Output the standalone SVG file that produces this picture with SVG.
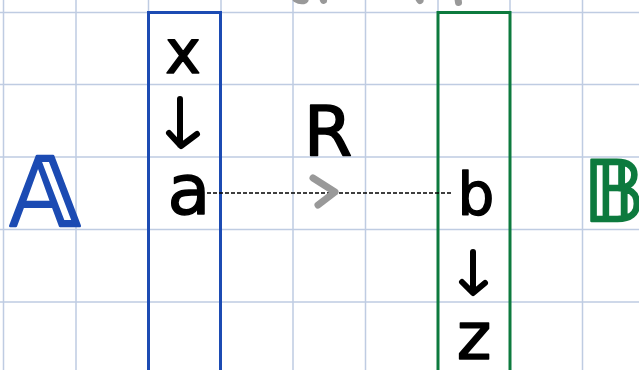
<svg xmlns="http://www.w3.org/2000/svg" width="639" height="370" viewBox="0 0 639 370">
<style>
.grid{stroke:#bfcce2;stroke-width:1.5;fill:none}
.ink{font-family:"DejaVu Sans",sans-serif;fill:#000;stroke:#000;stroke-width:1.5;stroke-linejoin:round;text-anchor:middle}
.stroke{fill:none;stroke:#000;stroke-width:6;stroke-linecap:round;stroke-linejoin:round}
.gray{fill:none;stroke:#999;stroke-width:7;stroke-linecap:round;stroke-linejoin:round}
</style>
<rect width="639" height="370" fill="#fff"/>
<g id="grid" class="grid">
<path d="M3.5 0V370M76 0V370M148.5 0V370M221 0V370M293 0V370M365.5 0V370M438 0V370M510 0V370M582.5 0V370"/>
<path d="M0 12.5H639M0 84.5H639M0 157H639M0 229.5H639M0 302H639"/>
</g>
<g id="top-fragments" class="gray" stroke-width="5">
<path d="M296 -1Q301 2 305 0"/>
<path d="M323 -1L323.5 0.5"/>
<path d="M419 -1L420 0.5"/>
<path d="M458 -1L458.5 2.5"/>
</g>
<g id="setA">
<rect x="148.5" y="12.5" width="72" height="370" fill="none" stroke="#1c4bb3" stroke-width="3"/>
<text x="45" y="226" class="ink" style="fill:#1c4bb3;stroke:#1c4bb3;stroke-width:2.5" font-size="96">𝔸</text>
</g>
<g id="setB">
<rect x="438" y="12.5" width="72" height="370" fill="none" stroke="#0d7a3e" stroke-width="3"/>
<text x="614" y="221" class="ink" style="fill:#0d7a3e;stroke:#0d7a3e;stroke-width:2.5" font-size="84">𝔹</text>
</g>
<g id="node-x"><text x="183" y="73" class="ink" font-size="60">x</text></g>
<g id="node-a"><text x="189" y="214" class="ink" font-size="70">a</text></g>
<g id="node-b"><text x="476" y="215" class="ink" font-size="58">b</text></g>
<g id="node-z"><text x="474" y="359" class="ink" font-size="66">z</text></g>
<g id="label-R"><text x="328" y="155" class="ink" font-size="70">R</text></g>
<g id="connectors">
<path class="stroke" d="M180 99V145M169 133L181 146L197 134"/>
<path class="stroke" d="M473 252V292M462 282L473 293L485 283"/>
<path d="M207 193H452" stroke="#000" stroke-width="1.5" stroke-dasharray="4 2" fill="none"/>
<path class="gray" d="M313 178L335 192L318 205"/>
</g>
</svg>
